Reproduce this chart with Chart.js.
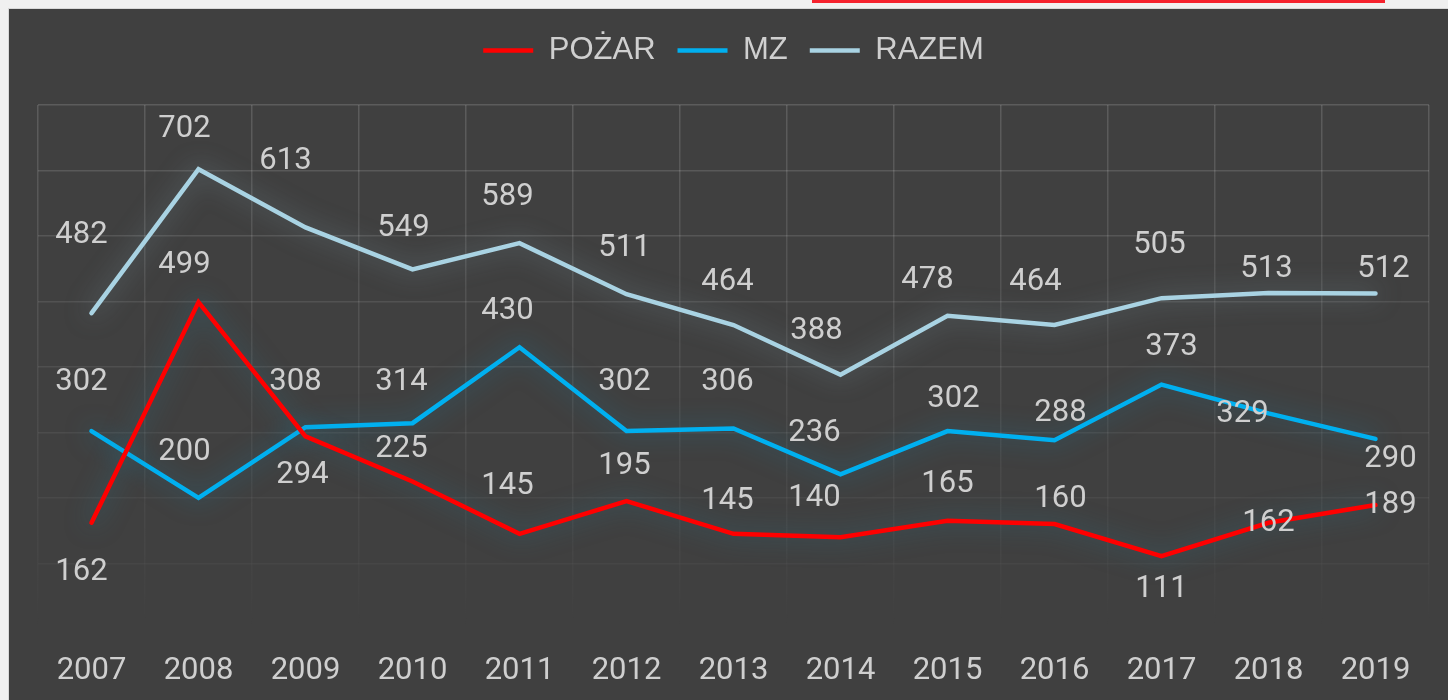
<!DOCTYPE html>
<html>
<head>
<meta charset="utf-8">
<script src="https://cdn.jsdelivr.net/npm/chart.js@4.4.1/dist/chart.umd.min.js"></script>
<style>
  html, body { margin: 0; padding: 0; background: #f0f0f0; width: 1448px; height: 700px; overflow: hidden; }
  #topbar { position: absolute; left: 812px; top: 0; width: 573px; height: 3px; background: #f5222d; }
  #panel { position: absolute; left: 8px; top: 8px; width: 1440px; height: 692px; background: #404040; border-left: 1px solid #d8d8d8; border-top: 1px solid #d8d8d8; box-sizing: border-box; overflow: hidden; }
  #chart { position: absolute; left: 0; top: 0; }
</style>
</head>
<body>
<div id="topbar"></div>
<div id="panel">
  <canvas id="chart" width="1439" height="694"></canvas>
</div>
<script>
const years = ["2007","2008","2009","2010","2011","2012","2013","2014","2015","2016","2017","2018","2019"]
const pozar = [162, 499, 294, 225, 145, 195, 145, 140, 165, 160, 111, 162, 189]
const mz = [302, 200, 308, 314, 430, 302, 306, 236, 302, 288, 373, 329, 290]
const razem = [482, 702, 613, 549, 589, 511, 464, 388, 478, 464, 505, 513, 512]

// label offsets (dx, dy) from each point, as placed in the original
const labelShift = {
    "POŻAR": [[-10,50],[-14,-37],[-3,39],[-11,-32],[-12,-48],[-2,-35],[-6,-33],[-26,-39],[0,-37],[6,-25],[0,33],[0,1],[15,0]],
    "MZ": [[-10,-49],[-14,-46],[-10,-45],[-11,-41],[-12,-36],[-2,-49],[-6,-46],[-26,-41],[6,-32],[6,-27],[10,-37],[-26,1],[15,20]],
    "RAZEM": [[-10,-78],[-14,-40],[-20,-66],[-9,-41],[-12,-46],[-2,-46],[-6,-43],[-24,-44],[-20,-36],[-19,-43],[-2,-53],[-2,-24],[8,-24]]
}

const glowColors = ["rgba(45,125,150,0.65)", "rgba(20,140,185,0.55)", "rgba(150,185,200,0.5)"]

// extra room under the legend
const legendGap = {
    id: "legendGap",
    beforeInit(chart) {
        const fit = chart.legend.fit
        chart.legend.fit = function () {
            fit.bind(chart.legend)()
            this.height += 29
        }
    }
}

const glowPlugin = {
    id: "glow",
    beforeDatasetDraw(chart, args) {
        const ctx = chart.ctx
        ctx.save()
        ctx.shadowColor = glowColors[args.index]
        ctx.shadowBlur = 24
    },
    afterDatasetDraw(chart) {
        chart.ctx.restore()
    }
}

const valueLabels = {
    id: "valueLabels",
    afterDatasetsDraw(chart) {
        const ctx = chart.ctx
        ctx.save()
        ctx.font = "31px Roboto"
        ctx.fillStyle = "#cfcfcf"
        ctx.textAlign = "center"
        ctx.textBaseline = "middle"
        chart.data.datasets.forEach((ds, i) => {
            const meta = chart.getDatasetMeta(i)
            meta.data.forEach((pt, j) => {
                const s = labelShift[ds.label][j]
                ctx.fillText(ds.data[j], pt.x + s[0], pt.y + s[1])
            })
        })
        ctx.restore()
    }
}

const vGrid = (c) => {
    const area = c.chart.chartArea
    if (!area) return "rgba(255,255,255,0.1)"
    const g = c.chart.ctx.createLinearGradient(0, area.top, 0, area.bottom)
    g.addColorStop(0, "rgba(255,255,255,0.15)")
    g.addColorStop(0.85, "rgba(255,255,255,0.03)")
    g.addColorStop(1, "rgba(255,255,255,0)")
    return g
}

const hGrid = (c) => {
    const v = c.tick ? c.tick.value : 0
    if (v < 100) return "rgba(0,0,0,0)"
    const a = 0.03 + 0.12 * (v - 100) / 700
    return "rgba(255,255,255," + a.toFixed(3) + ")"
}

new Chart(document.getElementById("chart"), {
    type: "line",
    data: {
        labels: years,
        datasets: [
            { label: "POŻAR", data: pozar, borderColor: "#ff0000", backgroundColor: "#ff0000", borderWidth: 4.5 },
            { label: "MZ", data: mz, borderColor: "#00b0f0", backgroundColor: "#00b0f0", borderWidth: 4.5 },
            { label: "RAZEM", data: razem, borderColor: "#a9d3e3", backgroundColor: "#a9d3e3", borderWidth: 4.5 }
        ]
    },
    options: {
        responsive: false,
        animation: false,
        layout: { padding: { left: 29, right: 19, top: 4, bottom: -11 } },
        elements: {
            line: { tension: 0, borderCapStyle: "round", borderJoinStyle: "miter" },
            point: { radius: 0, hoverRadius: 0 }
        },
        plugins: {
            legend: {
                position: "top",
                labels: {
                    usePointStyle: true,
                    pointStyle: "line",
                    pointStyleWidth: 50,
                    color: "#cfcfcf",
                    font: { family: "'Liberation Sans', Arial, sans-serif", size: 31 },
                    padding: 22
                }
            },
            tooltip: { enabled: false }
        },
        scales: {
            x: {
                offset: true,
                grid: { offset: true, drawTicks: false, color: vGrid, lineWidth: 1.5 },
                border: { display: false },
                ticks: { color: "#cfcfcf", font: { family: "Roboto", size: 31 }, padding: 24 }
            },
            y: {
                min: 0,
                max: 800,
                ticks: { stepSize: 100, display: false },
                grid: { drawTicks: false, color: hGrid, lineWidth: 1.5 },
                border: { display: false }
            }
        }
    },
    plugins: [legendGap, glowPlugin, valueLabels]
})
</script>
</body>
</html>
